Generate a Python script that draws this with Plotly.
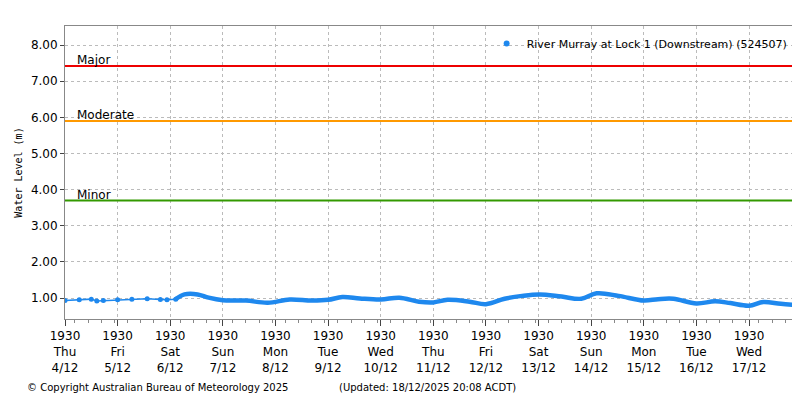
import plotly.graph_objects as go
import pandas as pd

early_t = ["2025-12-04 19:30","2025-12-05 02:00","2025-12-05 07:30","2025-12-05 10:00","2025-12-05 13:00",
           "2025-12-05 19:30","2025-12-06 02:00","2025-12-06 09:00","2025-12-06 15:00","2025-12-06 18:00","2025-12-06 22:00"]
early_v = [0.93,0.95,0.97,0.92,0.93,0.95,0.97,0.98,0.96,0.95,0.97]
main_t = ["2025-12-06 22:00","2025-12-07 02:00","2025-12-07 08:00","2025-12-07 13:00","2025-12-07 19:30",
          "2025-12-08 06:00","2025-12-08 16:00","2025-12-09 02:00","2025-12-09 12:00","2025-12-09 19:30",
          "2025-12-10 02:00","2025-12-10 10:00","2025-12-10 19:30","2025-12-11 04:00","2025-12-11 13:00",
          "2025-12-11 19:30","2025-12-12 02:00","2025-12-12 12:00","2025-12-12 19:30","2025-12-13 04:00",
          "2025-12-13 12:00","2025-12-13 20:00","2025-12-14 06:00","2025-12-14 15:00","2025-12-14 22:00",
          "2025-12-15 08:00","2025-12-15 19:30","2025-12-16 02:00","2025-12-16 09:00","2025-12-16 19:30",
          "2025-12-17 04:00","2025-12-17 11:00","2025-12-17 19:30","2025-12-18 02:00","2025-12-18 10:00",
          "2025-12-18 18:45"]
main_v = [0.97,1.10,1.10,1.01,0.94,0.93,0.87,0.96,0.93,0.95,1.03,0.99,0.96,1.01,0.90,
          0.88,0.95,0.90,0.83,0.98,1.06,1.10,1.04,0.98,1.13,1.06,0.93,0.97,0.98,0.85,
          0.91,0.86,0.79,0.89,0.84,0.80]
thresholds = [("Major",7.42,"#ee0000"),("Moderate",5.90,"#ff9900"),("Minor",3.70,"#339900")]
tick_days = pd.date_range("2025-12-04 19:30", periods=14, freq="D")
tick_text = [f"1930<br>{d.strftime('%a')}<br>{d.day}/{d.month}" for d in tick_days]
yticks = [1,2,3,4,5,6,7,8]

blue = "#1e88ee"
fig = go.Figure()
fig.add_trace(go.Scatter(x=early_t, y=early_v, mode="lines+markers", line=dict(color=blue, width=1.5),
                         marker=dict(size=5, color=blue), showlegend=False))
fig.add_trace(go.Scatter(x=main_t, y=main_v, mode="lines", line=dict(color=blue, width=4.5, shape="spline"),
                         name="River Murray at Lock 1 (Downstream) (524507)", showlegend=False))
fig.add_trace(go.Scatter(x=[None], y=[None], mode="markers", marker=dict(color=blue, size=6),
                         name="River Murray at Lock 1 (Downstream) (524507)"))
for name, v, c in thresholds:
    fig.add_trace(go.Scatter(x=["2025-12-04 19:30","2025-12-18 18:45"], y=[v, v], mode="lines",
                             line=dict(color=c, width=2), showlegend=False, hoverinfo="skip"))
    fig.add_annotation(x="2025-12-05 00:00", y=v, text=name, showarrow=False, xanchor="left",
                       yanchor="bottom", font=dict(size=12, color="black"), yshift=-3)

fig.update_layout(
    width=800, height=400, margin=dict(l=57, r=8, t=18, b=89),
    paper_bgcolor="white", plot_bgcolor="white",
    font=dict(family="DejaVu Sans", size=12, color="black"),
    legend=dict(x=0.99, y=0.99, xanchor="right", yanchor="top", bgcolor="rgba(0,0,0,0)", font=dict(size=11)),
    xaxis=dict(range=["2025-12-04 19:30","2025-12-18 18:45"], tickvals=list(tick_days), ticktext=tick_text,
               showgrid=True, gridcolor="#bbbbbb", griddash="dot", ticks="outside", ticklen=6,
               linecolor="#888888", mirror=True, showline=True, automargin=False,
               minor=dict(dtick=6*3600*1000, ticks="outside", ticklen=3, tickcolor="#888888", showgrid=False)),
    yaxis=dict(range=[0.42, 8.53], tickvals=yticks, ticktext=[f"{v:.2f}" for v in yticks],
               showgrid=True, gridcolor="#bbbbbb", griddash="dot", ticks="outside", ticklen=4,
               linecolor="#888888", mirror=True, showline=True, zeroline=False, automargin=False,
               title=dict(text="Water Level (m)", font=dict(family="DejaVu Sans Mono", size=10), standoff=6)),
)
fig.add_annotation(xref="paper", yref="paper", x=-0.055, y=-0.235, xanchor="left", yanchor="middle",
                   text="© Copyright Australian Bureau of Meteorology 2025", showarrow=False, font=dict(size=10))
fig.add_annotation(xref="paper", yref="paper", x=0.37, y=-0.235, xanchor="left", yanchor="middle",
                   text="(Updated: 18/12/2025 20:08 ACDT)", showarrow=False, font=dict(size=10))
fig.write_html("out.html")
